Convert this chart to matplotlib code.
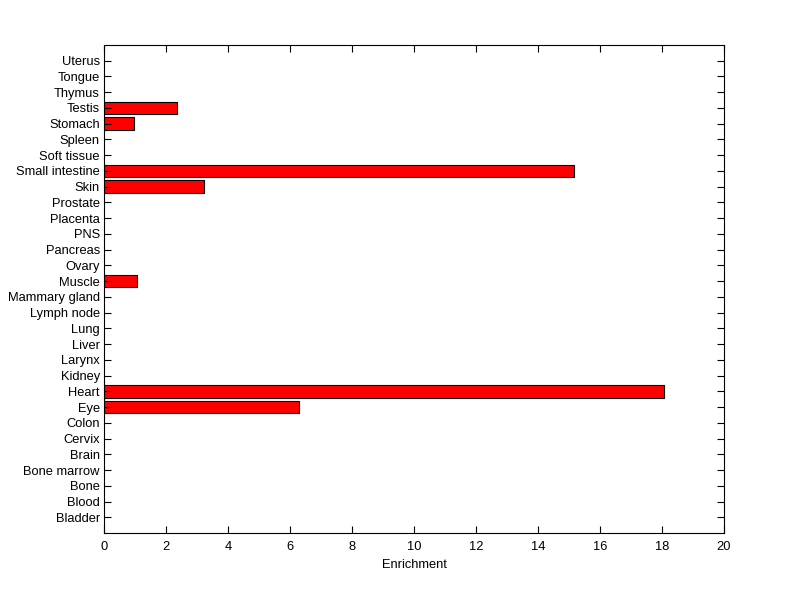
import matplotlib
matplotlib.use("Agg")
import matplotlib.pyplot as plt
import numpy as np

# tissues listed bottom to top
tissues = ["Bladder", "Blood", "Bone", "Bone marrow", "Brain", "Cervix", "Colon",
           "Eye", "Heart", "Kidney", "Larynx", "Liver", "Lung", "Lymph node",
           "Mammary gland", "Muscle", "Ovary", "Pancreas", "PNS", "Placenta",
           "Prostate", "Skin", "Small intestine", "Soft tissue", "Spleen",
           "Stomach", "Testis", "Thymus", "Tongue", "Uterus"]
enrichment = [0, 0, 0, 0, 0, 0, 0,
              6.3, 18.05, 0, 0, 0, 0, 0,
              0, 1.07, 0, 0, 0, 0,
              0, 3.22, 15.15, 0, 0,
              0.98, 2.36, 0, 0, 0]
x_ticks = [0, 2, 4, 6, 8, 10, 12, 14, 16, 18, 20]

plt.rcParams["font.family"] = ["Liberation Sans", "DejaVu Sans"]
plt.rcParams["font.size"] = 9.3

fig = plt.figure(figsize=(8, 5.99), dpi=100)
ax = fig.add_axes([0.13, 0.11, 0.775, 0.815])

pos = np.arange(1, len(tissues) + 1)
vals = np.array(enrichment)
mask = vals > 0
ax.barh(pos[mask], vals[mask], height=0.8, color="#ff0000",
        edgecolor="black", linewidth=0.8)

ax.set_xlim(0, 20)
ax.set_ylim(0, 31)
ax.set_xticks(x_ticks)
ax.set_yticks(pos)
ax.set_yticklabels(tissues)
ax.set_xlabel("Enrichment", labelpad=4)

ax.tick_params(direction="in", length=5, width=0.8, top=True, right=True,
               colors="black")
ax.tick_params(axis="x", pad=6)
ax.tick_params(axis="y", pad=3)
for s in ax.spines.values():
    s.set_linewidth(0.8)

fig.savefig("out.png", dpi=100, facecolor="white")
